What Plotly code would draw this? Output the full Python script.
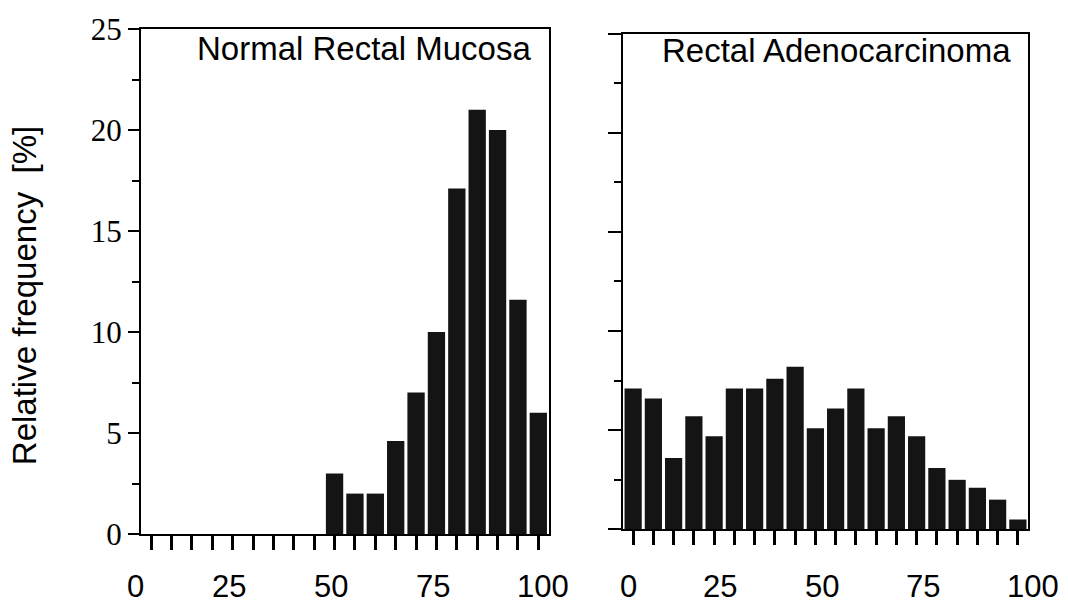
import plotly.graph_objects as go

# ---- data ----
bin_centers = [2.5, 7.5, 12.5, 17.5, 22.5, 27.5, 32.5, 37.5, 42.5, 47.5,
               52.5, 57.5, 62.5, 67.5, 72.5, 77.5, 82.5, 87.5, 92.5, 97.5]
normal_mucosa = [0, 0, 0, 0, 0, 0, 0, 0, 0, 3.0,
                 2.0, 2.0, 4.6, 7.0, 10.0, 17.1, 21.0, 20.0, 11.6, 6.0]
adenocarcinoma = [7.1, 6.6, 3.6, 5.7, 4.7, 7.1, 7.1, 7.6, 8.2, 5.1,
                  6.1, 7.1, 5.1, 5.7, 4.7, 3.1, 2.5, 2.1, 1.5, 0.5]
x_tick_labels = [0, 25, 50, 75, 100]
y_tick_values = [0, 5, 10, 15, 20, 25]
panel_titles = ["Normal Rectal Mucosa", "Rectal Adenocarcinoma"]
y_title = "Relative frequency  [%]"

# ---- style ----
BAR = "#141414"
SANS = "Liberation Sans, Arial, sans-serif"
SERIF = "Liberation Serif, Times New Roman, serif"
W, H = 1068, 605
ML, MR, MT, MB = 141, 39, 18, 71
PW, PH = W - ML - MR, H - MT - MB
# pixel offsets of x tick labels (as printed in the original)
left_label_shift = [-6, -14, -14, -14, -6]
right_label_shift = [5, -4, -4, -4, 5]

fig = go.Figure()
fig.add_trace(go.Bar(x=bin_centers, y=normal_mucosa, marker_color=BAR,
                     marker_line_width=0, xaxis="x", yaxis="y"))
fig.add_trace(go.Bar(x=bin_centers, y=adenocarcinoma, marker_color=BAR,
                     marker_line_width=0, xaxis="x2", yaxis="y2"))

xcommon = dict(range=[0, 100], tickmode="array", tickvals=bin_centers,
               ticks="outside", ticklen=14, tickwidth=2.5, tickcolor="black",
               showticklabels=False, showline=True, linewidth=2,
               linecolor="black", mirror=True, showgrid=False, zeroline=False,
               fixedrange=True)
ycommon = dict(range=[0, 25], tickmode="array", tickvals=y_tick_values,
               ticks="outside", tickwidth=2, tickcolor="black",
               showline=True, linewidth=2, linecolor="black", mirror=True,
               showgrid=False, zeroline=False,
               minor=dict(ticks="outside", dtick=2.5, tick0=0, ticklen=7,
                          tickwidth=2, tickcolor="black", showgrid=False))

fig.update_layout(
    width=W, height=H,
    margin=dict(l=ML, r=MR, t=MT, b=MB),
    paper_bgcolor="white", plot_bgcolor="white",
    showlegend=False, bargap=0.15,
    xaxis=dict(domain=[0, (548.5 - ML) / PW], anchor="y", **xcommon),
    xaxis2=dict(domain=[(623 - ML) / PW, (1028 - ML) / PW], anchor="y2", **xcommon),
    yaxis=dict(domain=[0, 1], anchor="x", ticklen=11, showticklabels=True,
               tickfont=dict(family=SERIF, size=31, color="black"), **ycommon),
    yaxis2=dict(domain=[(534 - 529.3) / PH, (534 - 22.7) / PH], anchor="x2",
                ticklen=13, showticklabels=False, **ycommon),
)

ann = []
for v, s in zip(x_tick_labels, left_label_shift):
    ann.append(dict(x=v, xref="x", y=(534 - 588) / PH, yref="paper",
                    xshift=s, text=str(v), showarrow=False,
                    xanchor="center", yanchor="middle",
                    font=dict(family=SANS, size=31, color="black")))
for v, s in zip(x_tick_labels, right_label_shift):
    ann.append(dict(x=v, xref="x2", y=(534 - 588) / PH, yref="paper",
                    xshift=s, text=str(v), showarrow=False,
                    xanchor="center", yanchor="middle",
                    font=dict(family=SANS, size=31, color="black")))
ann.append(dict(x=(533 - 141.5) / 407, xref="x domain", y=(534 - 38) / PH,
                yref="paper", text=panel_titles[0], showarrow=False,
                xanchor="right", yanchor="middle",
                font=dict(family=SANS, size=33, color="black")))
ann.append(dict(x=(1013 - 623) / 405, xref="x2 domain", y=(534 - 40) / PH,
                yref="paper", text=panel_titles[1], showarrow=False,
                xanchor="right", yanchor="middle",
                font=dict(family=SANS, size=33, color="black")))
ann.append(dict(x=(24 - ML) / PW, xref="paper", y=(534 - 291) / PH,
                yref="paper", text=y_title, showarrow=False, textangle=-90,
                xanchor="center", yanchor="middle",
                font=dict(family=SANS, size=33, color="black")))
fig.update_layout(annotations=ann)

fig.write_html("out.html")
